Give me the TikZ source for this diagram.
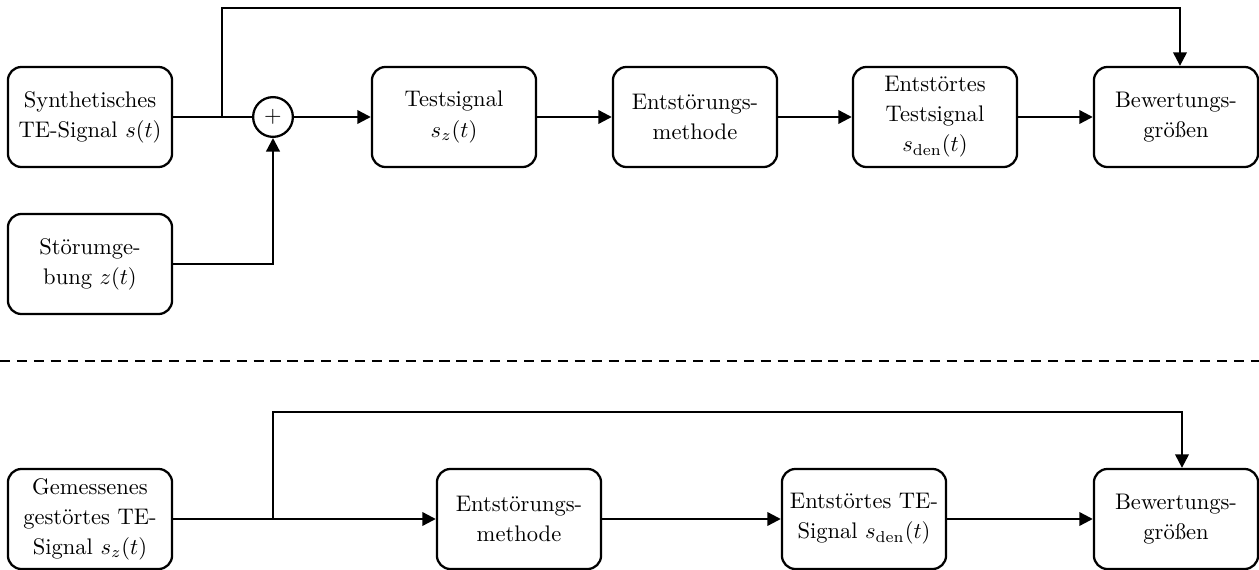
\documentclass[tikz,border=0pt]{standalone}
\usepackage{fontspec}
\usetikzlibrary{arrows.meta}
\begin{document}
\begin{tikzpicture}[x=0.0156cm,y=-0.0156cm,
  blk/.style={draw,line width=1pt,rounded corners=6pt,minimum height=1.56cm,minimum width=2.56cm,align=center,inner sep=2pt,font=\linespread{1.11}\selectfont},
  sumnode/.style={draw,circle,line width=1pt,minimum size=0.62cm,inner sep=0pt},
  conn/.style={line width=1pt},
  arr/.style={line width=1pt,-{Triangle[length=6pt,width=6pt]}},
  sep/.style={line width=1pt,dash pattern=on 4.5pt off 3pt}]
\useasboundingbox (0,0) rectangle (1259,570);
% top row
\node[blk] (s1) at (90,117) {Synthetisches\\TE-Signal $s(t)$};
\node[sumnode] (plus) at (273,117) {$+$};
\node[blk] (st) at (90,264) {Störumge-\\bung $z(t)$};
\node[blk] (ts) at (454,117) {Testsignal\\$s_z(t)$};
\node[blk] (em1) at (695,117) {Entstörungs-\\methode};
\node[blk] (et1) at (935,117) {Entstörtes\\Testsignal\\$s_{\mathrm{den}}(t)$};
\node[blk] (bw1) at (1176,117) {Bewertungs-\\größen};
\coordinate (j1) at (222,117);
\coordinate (t1) at (1180,8);
\draw[conn] (s1.east) -- (plus.west);
\draw[arr] (st.east) -| (plus.south);
\draw[arr] (plus.east) -- (ts.west);
\draw[arr] (ts) -- (em1);
\draw[arr] (em1) -- (et1);
\draw[arr] (et1) -- (bw1);
\draw[arr] (j1) |- (t1) -- (t1 |- bw1.north);
% separator
\coordinate (d1) at (0,361);
\coordinate (d2) at (1259,361);
\draw[sep] (d1) -- (d2);
% bottom row
\node[blk] (g) at (90,519) {Gemessenes\\gestörtes TE-\\Signal $s_z(t)$};
\node[blk] (em2) at (519,519) {Entstörungs-\\methode};
\node[blk] (et2) at (864,519) {Entstörtes TE-\\Signal $s_{\mathrm{den}}(t)$};
\node[blk] (bw2) at (1176,519) {Bewertungs-\\größen};
\coordinate (j2) at (273,519);
\coordinate (t2) at (1182,412);
\draw[arr] (g) -- (em2);
\draw[arr] (em2) -- (et2);
\draw[arr] (et2) -- (bw2);
\draw[arr] (j2) |- (t2) -- (t2 |- bw2.north);
\end{tikzpicture}
\end{document}
